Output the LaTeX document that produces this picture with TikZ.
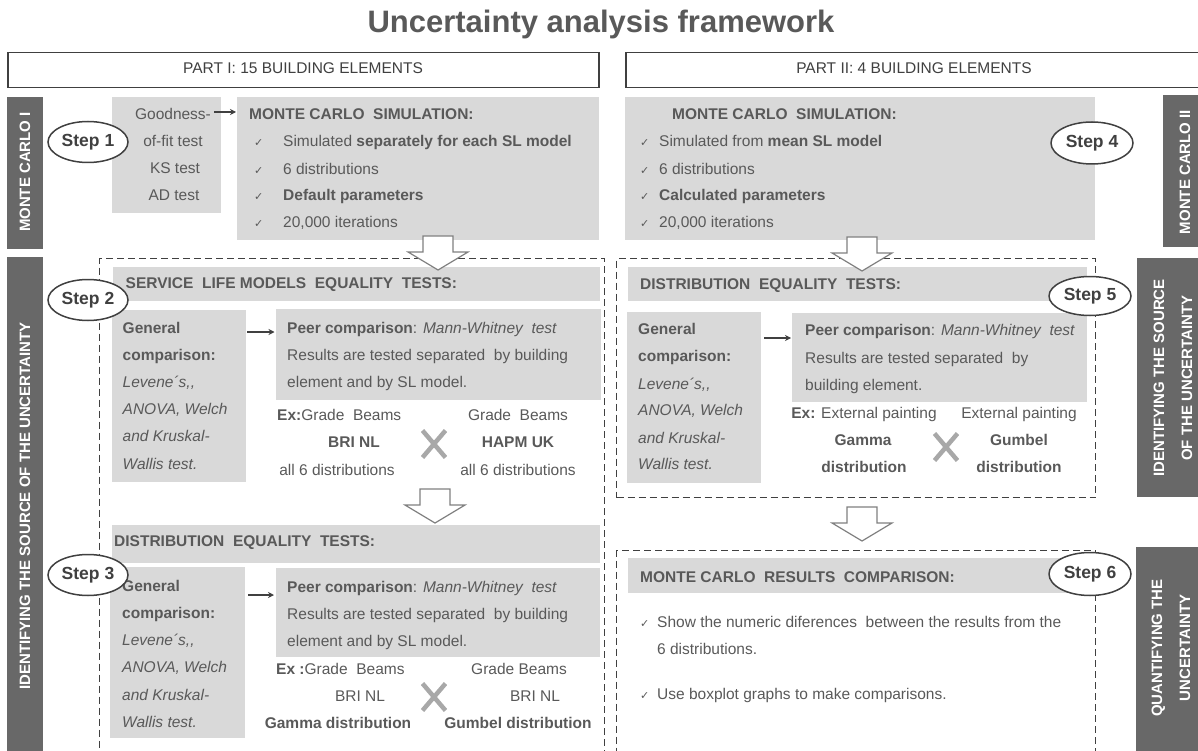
\documentclass[tikz,border=0pt]{standalone}
\usepackage{fontspec}
\setmainfont{Liberation Sans}
\newfontfamily\checkfont{DejaVu Sans}
\usetikzlibrary{arrows.meta,shapes.geometric}

\definecolor{txtgray}{HTML}{595959}
\definecolor{boxgray}{HTML}{D9D9D9}
\definecolor{bargray}{HTML}{686868}
\definecolor{linegray}{HTML}{404040}
\definecolor{arrowgray}{HTML}{808080}
\definecolor{crossgray}{HTML}{A8A8A8}

\tikzset{
  body/.style={text=txtgray, font=\fontsize{15.5}{18}\selectfont, inner sep=0pt},
  bodyb/.style={body, font=\fontsize{15.5}{18}\selectfont\bfseries},
  bodyi/.style={body, font=\fontsize{15.5}{18}\selectfont\itshape},
  checkmark/.style={text=txtgray, font=\checkfont\fontsize{11}{11}\selectfont, inner sep=0pt},
  greybox/.style={fill=boxgray, draw=none, inner sep=0pt, anchor=north west},
  darkbar/.style={fill=bargray, draw=none, inner sep=0pt, anchor=north west},
  bartext/.style={text=white, font=\fontsize{15}{28}\selectfont\bfseries, rotate=90, align=center, inner sep=0pt},
  partbox/.style={draw=linegray, line width=1.5pt, fill=white, anchor=north west, inner sep=0pt},
  parttext/.style={text=linegray, font=\fontsize{15.5}{18}\selectfont, inner sep=0pt},
  dashbox/.style={draw=linegray, line width=1.4pt, dash pattern=on 7pt off 4pt, anchor=north west, inner sep=0pt},
  stepmark/.style={ellipse, draw=linegray, line width=1.5pt, fill=white, minimum width=80pt,
    minimum height=41pt, inner sep=0pt, text=linegray, font=\fontsize{17.5}{20}\selectfont\bfseries},
  smallarrow/.style={draw=linegray, line width=1.3pt, -{Stealth[length=6pt,width=6pt]}},
  blockarrow/.style={draw=arrowgray, line width=1.2pt, fill=white, line join=miter},
  xcross/.style={draw=crossgray, line width=4.5pt}
}

% one line of text: style, name, x, y, text
\newcommand\txtL[5]{\node[#1,anchor=mid west] (#2) at (#3,#4) {#5};}
\newcommand\txtC[5]{\node[#1,anchor=mid] (#2) at (#3,#4) {#5};}
% hollow down arrow from a named coordinate at its top centre
\newcommand\hollowdown[1]{\draw[blockarrow] ([shift={(-15,0)}]#1) -- ++(30,0) -- ++(0,16) -- ++(15,0) -- ++(-30,18) -- ++(-30,-18) -- ++(15,0) -- cycle;}
% grey cross between two compared items
\newcommand\greycross[1]{\draw[xcross] ([shift={(-11.5,-13.5)}]#1) -- ([shift={(11.5,13.5)}]#1);
  \draw[xcross] ([shift={(11.5,-13.5)}]#1) -- ([shift={(-11.5,13.5)}]#1);}

\begin{document}
\begin{tikzpicture}[x=1pt,y=-1pt]
\useasboundingbox (0,0) rectangle (1198,751);
\clip (0,0) rectangle (1198,751);

% ---------------- title and part headers ----------------
\node[anchor=base, text=txtgray, font=\fontsize{31}{34}\selectfont\bfseries, inner sep=0pt] (title) at (601,33) {Uncertainty analysis framework};

\node[partbox, minimum width=591pt, minimum height=35pt] (part1) at (7,52) {};
\txtC{parttext}{part1t}{303}{71}{PART I: 15 BUILDING ELEMENTS}
\node[partbox, minimum width=580pt, minimum height=35pt] (part2) at (625,52) {};
\txtC{parttext}{part2t}{914}{71}{PART II: 4 BUILDING ELEMENTS}

% ---------------- side bars ----------------
\node[darkbar, minimum width=36pt, minimum height=152pt] (mc1bar) at (7,97) {};
\node[bartext] (mc1bart) at (25,172) {MONTE CARLO I};
\node[darkbar, minimum width=36pt, minimum height=500pt] (src1bar) at (7,257) {};
\node[bartext] (src1bart) at (25,506) {IDENTIFYING THE SOURCE OF THE UNCERTAINTY};

\node[darkbar, minimum width=50pt, minimum height=152pt] (mc2bar) at (1163,95) {};
\node[bartext] (mc2bart) at (1185,172) {MONTE CARLO II};
\node[darkbar, minimum width=75pt, minimum height=239pt] (src2bar) at (1137,258) {};
\node[bartext] (src2bart) at (1173,378) {IDENTIFYING THE SOURCE\\OF THE UNCERTAINTY};
\node[darkbar, minimum width=75pt, minimum height=210pt] (qntbar) at (1136,547) {};
\node[bartext] (qntbart) at (1171,648) {QUANTIFYING THE\\UNCERTAINTY};

% ---------------- step 1: goodness of fit and Monte Carlo I ----------------
\node[greybox, minimum width=109pt, minimum height=116pt] (good) at (112,97) {};
\txtC{body}{good1}{173}{117}{Goodness-}
\txtC{body}{good2}{173}{144}{of-fit test}
\txtC{body}{good3}{175}{171}{KS test}
\txtC{body}{good4}{174}{198}{AD test}

\node[greybox, minimum width=362pt, minimum height=143pt] (mc1) at (237,97) {};
\txtL{bodyb}{mc1h}{249}{117}{MONTE CARLO~ SIMULATION:}
\txtL{checkmark}{mc1c1}{254}{144}{✓}
\txtL{body}{mc1l1}{283}{144}{Simulated \textbf{separately for each SL model}}
\txtL{checkmark}{mc1c2}{254}{172}{✓}
\txtL{body}{mc1l2}{283}{172}{6 distributions}
\txtL{checkmark}{mc1c3}{254}{198}{✓}
\txtL{bodyb}{mc1l3}{283}{198}{Default parameters}
\txtL{checkmark}{mc1c4}{254}{225}{✓}
\txtL{body}{mc1l4}{283}{225}{20,000 iterations}

\draw[smallarrow] ([shift={(-7,15)}]good.north east) -- ([shift={(-1,15)}]mc1.north west);

% ---------------- step 4: Monte Carlo II ----------------
\node[greybox, minimum width=470pt, minimum height=143pt] (mc2) at (625,97) {};
\txtL{bodyb}{mc2h}{672}{117}{MONTE CARLO~ SIMULATION:}
\txtL{checkmark}{mc2c1}{640}{144}{✓}
\txtL{body}{mc2l1}{659}{144}{Simulated from \textbf{mean SL model}}
\txtL{checkmark}{mc2c2}{640}{172}{✓}
\txtL{body}{mc2l2}{659}{172}{6 distributions}
\txtL{checkmark}{mc2c3}{640}{198}{✓}
\txtL{bodyb}{mc2l3}{659}{198}{Calculated parameters}
\txtL{checkmark}{mc2c4}{640}{225}{✓}
\txtL{body}{mc2l4}{659}{225}{20,000 iterations}

% ---------------- identifying the source: part I ----------------
\node[dashbox, minimum width=505pt, minimum height=510pt] (src1) at (99,258) {};

% step 2
\node[greybox, minimum width=487pt, minimum height=34pt] (slbar) at (113,267) {};
\txtL{bodyb}{slbart}{125.5}{286}{SERVICE~ LIFE MODELS~ EQUALITY~ TESTS:}
\node[greybox, minimum width=134pt, minimum height=172pt] (gen1) at (112,310) {};
\txtL{bodyb}{gen1a}{122.5}{331}{General}
\txtL{bodyb}{gen1b}{122.5}{358}{comparison:}
\txtL{bodyi}{gen1c}{122.5}{385}{Levene´s,{},}
\txtL{bodyi}{gen1d}{122.5}{412}{ANOVA, Welch}
\txtL{bodyi}{gen1e}{122.5}{439}{and Kruskal-}
\txtL{bodyi}{gen1f}{122.5}{467}{Wallis test.}
\node[greybox, minimum width=325pt, minimum height=91pt] (peer1) at (275.5,309) {};
\txtL{body}{peer1a}{287}{331}{\textbf{Peer comparison}: \textit{Mann-Whitney~ test}}
\txtL{body}{peer1b}{287}{358}{Results are tested separated~ by building}
\txtL{body}{peer1c}{287}{385}{element and by SL model.}
\draw[smallarrow] ([shift={(1,22)}]gen1.north east) -- ([shift={(-1,23)}]peer1.north west);
\txtL{body}{ex1a}{277}{418}{\textbf{Ex:}Grade~ Beams}
\txtC{bodyb}{ex1b}{354}{445}{BRI NL}
\txtC{body}{ex1c}{337}{473}{all 6 distributions}
\txtC{body}{ex1d}{518}{418}{Grade~ Beams}
\txtC{bodyb}{ex1e}{518}{445}{HAPM UK}
\txtC{body}{ex1f}{518}{473}{all 6 distributions}
\coordinate (x1) at (434,444);
\greycross{x1}

% step 3
\node[greybox, minimum width=488pt, minimum height=38pt] (dbar1) at (112,525) {};
\txtL{bodyb}{dbar1t}{114}{544}{DISTRIBUTION~ EQUALITY~ TESTS:}
\node[greybox, minimum width=135pt, minimum height=171pt] (gen2) at (110,567) {};
\txtL{bodyb}{gen2a}{122}{589}{General}
\txtL{bodyb}{gen2b}{122}{616}{comparison:}
\txtL{bodyi}{gen2c}{122}{643}{Levene´s,{},}
\txtL{bodyi}{gen2d}{122}{670}{ANOVA, Welch}
\txtL{bodyi}{gen2e}{122}{698}{and Kruskal-}
\txtL{bodyi}{gen2f}{122}{725}{Wallis test.}
\node[greybox, minimum width=324pt, minimum height=89pt] (peer2) at (276,568) {};
\txtL{body}{peer2a}{287}{590}{\textbf{Peer comparison}: \textit{Mann-Whitney~ test}}
\txtL{body}{peer2b}{287}{617}{Results are tested separated~ by building}
\txtL{body}{peer2c}{287}{644}{element and by SL model.}
\draw[smallarrow] ([shift={(3,28)}]gen2.north east) -- ([shift={(-2,27)}]peer2.north west);
\txtL{body}{ex2a}{276}{672}{\textbf{Ex :}Grade~ Beams}
\txtC{body}{ex2b}{360}{699}{BRI NL}
\txtC{bodyb}{ex2c}{338}{726}{Gamma distribution}
\txtC{body}{ex2d}{519}{672}{Grade Beams}
\txtC{body}{ex2e}{535}{699}{BRI NL}
\txtC{bodyb}{ex2f}{518}{726}{Gumbel distribution}
\coordinate (x2) at (434,697);
\greycross{x2}

% ---------------- identifying the source: part II (step 5) ----------------
\node[dashbox, minimum width=479pt, minimum height=239pt] (src2) at (616,258) {};
\node[greybox, minimum width=459pt, minimum height=34pt] (dbar2) at (628,267) {};
\txtL{bodyb}{dbar2t}{640}{287}{DISTRIBUTION~ EQUALITY~ TESTS:}
\node[greybox, minimum width=134pt, minimum height=171pt] (gen3) at (627,312) {};
\txtL{bodyb}{gen3a}{638}{332}{General}
\txtL{bodyb}{gen3b}{638}{359}{comparison:}
\txtL{bodyi}{gen3c}{638}{387}{Levene´s,{},}
\txtL{bodyi}{gen3d}{638}{413}{ANOVA, Welch}
\txtL{bodyi}{gen3e}{638}{441}{and Kruskal-}
\txtL{bodyi}{gen3f}{638}{467}{Wallis test.}
\node[greybox, minimum width=295pt, minimum height=89pt] (peer3) at (792,313) {};
\txtL{body}{peer3a}{805}{333}{\textbf{Peer comparison}: \textit{Mann-Whitney~ test}}
\txtL{body}{peer3b}{805}{361}{Results are tested separated~ by}
\txtL{body}{peer3c}{805}{388}{building element.}
\draw[smallarrow] ([shift={(3,26)}]gen3.north east) -- ([shift={(-1,25)}]peer3.north west);
\txtC{body}{ex3a}{864}{416}{\textbf{Ex:} External painting}
\txtC{bodyb}{ex3b}{863}{443}{Gamma}
\txtC{bodyb}{ex3c}{864}{470}{distribution}
\txtC{body}{ex3d}{1019}{416}{External painting}
\txtC{bodyb}{ex3e}{1019}{443}{Gumbel}
\txtC{bodyb}{ex3f}{1019}{470}{distribution}
\coordinate (x3) at (946,447);
\greycross{x3}

% ---------------- quantifying the uncertainty (step 6) ----------------
\node[dashbox, minimum width=479pt, minimum height=220pt] (qnt) at (616,550) {};
\node[greybox, minimum width=462pt, minimum height=35pt] (resbar) at (628,558) {};
\txtL{bodyb}{resbart}{640}{580}{MONTE CARLO~ RESULTS~ COMPARISON:}
\txtL{checkmark}{qc1}{640}{625}{✓}
\txtL{body}{ql1}{657}{625}{Show the numeric diferences~ between the results from the}
\txtL{body}{ql2}{657}{652}{6 distributions.}
\txtL{checkmark}{qc2}{640}{697}{✓}
\txtL{body}{ql3}{657}{697}{Use boxplot graphs to make comparisons.}

% ---------------- hollow flow arrows ----------------
\coordinate (a1) at (438,236);
\hollowdown{a1}
\coordinate (a2) at (435,489);
\hollowdown{a2}
\coordinate (a3) at (862,237);
\hollowdown{a3}
\coordinate (a4) at (862,507);
\hollowdown{a4}

% ---------------- step marks ----------------
\node[stepmark] (step1) at (88,142) {Step 1};
\node[stepmark] (step2) at (88,300) {Step 2};
\node[stepmark] (step3) at (88,575) {Step 3};
\node[stepmark, minimum width=82pt, minimum height=42pt] (step4) at (1092,143) {Step 4};
\node[stepmark, minimum width=82pt, minimum height=39pt] (step5) at (1090,296) {Step 5};
\node[stepmark, minimum width=82pt, minimum height=43pt] (step6) at (1090,574) {Step 6};
\end{tikzpicture}
\end{document}
